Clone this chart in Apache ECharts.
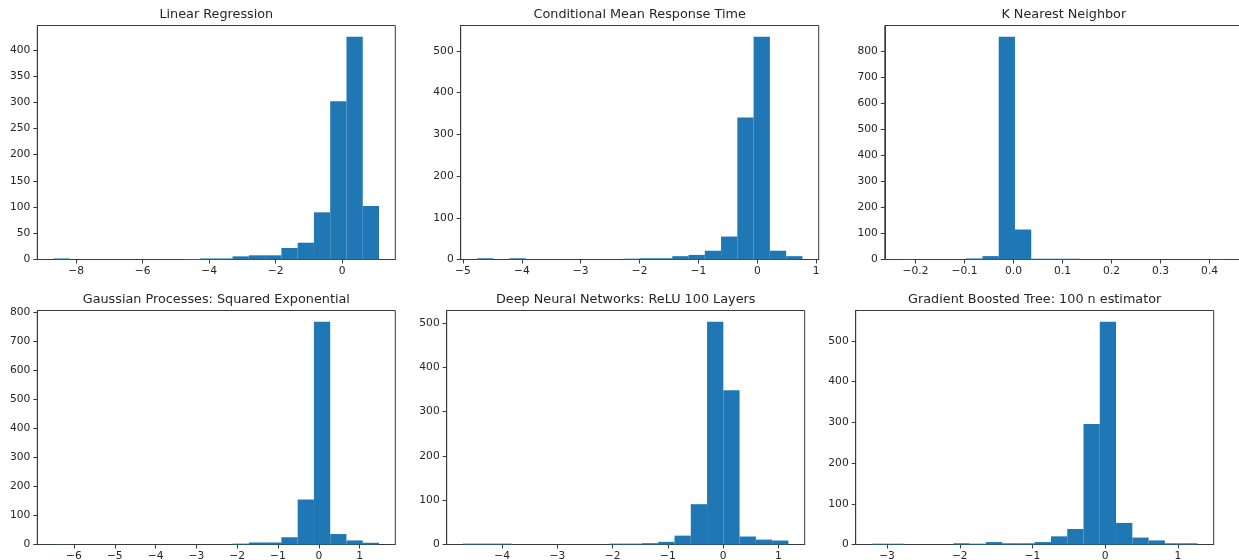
<!DOCTYPE html>
<html>
<head>
<meta charset="utf-8">
<script src="https://cdn.jsdelivr.net/npm/echarts@6/dist/echarts.min.js"></script>
<style>
html,body{margin:0;padding:0;background:#fff;}
#chart{width:1239px;height:560px;}
</style>
</head>
<body>
<div id="chart"></div>
<script>
// ---------- DATA ----------
const titles = [
  "Linear Regression",
  "Conditional Mean Response Time",
  "K Nearest Neighbor",
  "Gaussian Processes: Squared Exponential",
  "Deep Neural Networks: ReLU 100 Layers",
  "Gradient Boosted Tree: 100 n estimator"
];
// histogram bin range [first edge, last edge] (20 equal bins each)
const binRange1 = [-8.68, 1.106];
const binRange2 = [-4.762, 0.765];
const binRange3 = [-0.2295, 0.4345];
const binRange4 = [-6.50, 1.476];
const binRange5 = [-4.707, 1.181];
const binRange6 = [-3.207, 1.268];
// bin counts
const counts1 = [2,0,0,0,0,0,0,0,1,2,2,6,8,8,22,32,90,302,425,102];
const counts2 = [3,0,3,0,0,0,0,0,0,2,3,3,8,11,21,55,340,534,21,8];
const counts3 = [1,0,0,0,4,13,855,115,3,3,3,0,0,0,0,0,0,0,0,1];
const counts4 = [1,0,0,0,0,0,0,0,0,0,0,3,7,7,25,155,768,36,14,6];
const counts5 = [2,2,2,0,0,0,0,0,0,2,2,3,6,20,91,503,348,18,11,9];
const counts6 = [2,2,0,0,0,3,2,6,3,3,6,20,38,296,547,53,17,10,3,3];
// tick labels
const xTicks1 = [-8,-6,-4,-2,0];
const xTicks2 = [-5,-4,-3,-2,-1,0,1];
const xTicks3 = [-0.2,-0.1,0.0,0.1,0.2,0.3,0.4];
const xTicks4 = [-6,-5,-4,-3,-2,-1,0,1];
const xTicks5 = [-4,-3,-2,-1,0,1];
const xTicks6 = [-3,-2,-1,0,1];
const yTicks1 = [0,50,100,150,200,250,300,350,400];
const yTicks2 = [0,100,200,300,400,500];
const yTicks3 = [0,100,200,300,400,500,600,700,800];
const yTicks4 = [0,100,200,300,400,500,600,700,800];
const yTicks5 = [0,100,200,300,400,500];
const yTicks6 = [0,100,200,300,400,500];

// ---------- LAYOUT ----------
const panels = [
  {range: binRange1, counts: counts1, xt: xTicks1, yt: yTicks1, dec: 0, left: 37.3,  top: 25.5},
  {range: binRange2, counts: counts2, xt: xTicks2, yt: yTicks2, dec: 0, left: 460.7, top: 25.5},
  {range: binRange3, counts: counts3, xt: xTicks3, yt: yTicks3, dec: 1, left: 884.8, top: 25.5},
  {range: binRange4, counts: counts4, xt: xTicks4, yt: yTicks4, dec: 0, left: 37.3,  top: 310.5},
  {range: binRange5, counts: counts5, xt: xTicks5, yt: yTicks5, dec: 0, left: 446.7, top: 310.5},
  {range: binRange6, counts: counts6, xt: xTicks6, yt: yTicks6, dec: 0, left: 855.7, top: 310.5}
];
const W = 358, H = 234;
const FONT = "'DejaVu Sans', sans-serif";
const TEXT = '#262626';
const LINE = '#3a3a3a';
const BAR = '#1f77b4';

function fmt(v, dec) {
  return v.toFixed(dec).replace('-', '\u2212');
}

const grid = [], xAxis = [], yAxis = [], series = [], title = [];
panels.forEach((p, k) => {
  const lo = p.range[0], hi = p.range[1];
  const n = p.counts.length;
  const w = (hi - lo) / n;
  const pad = (hi - lo) * 0.05;
  const ymax = Math.max.apply(null, p.counts) * 1.05;
  grid.push({left: p.left, top: p.top, width: W, height: H, show: true,
    borderColor: LINE, borderWidth: 1, backgroundColor: 'transparent',
    containLabel: false, outerBoundsMode: 'none'});
  title.push({text: titles[k], left: p.left + W / 2, top: p.top - 17.5, textAlign: 'center',
    padding: 0, textStyle: {fontFamily: FONT, fontSize: 12.8, fontWeight: 'normal', color: TEXT}});
  xAxis.push({type: 'value', gridIndex: k, min: lo - pad, max: hi + pad,
    axisLine: {show: true, onZero: false, lineStyle: {color: LINE, width: 1}},
    axisTick: {show: true, length: 4, lineStyle: {color: LINE, width: 1}, customValues: p.xt},
    axisLabel: {show: true, margin: 6, fontFamily: FONT, fontSize: 10.7, color: TEXT,
      customValues: p.xt, formatter: (v) => fmt(v, p.dec)},
    splitLine: {show: false}});
  yAxis.push({type: 'value', gridIndex: k, min: 0, max: ymax,
    axisLine: {show: true, onZero: false, lineStyle: {color: LINE, width: 1}},
    axisTick: {show: true, length: 4, lineStyle: {color: LINE, width: 1}, customValues: p.yt},
    axisLabel: {show: true, margin: 7, fontFamily: FONT, fontSize: 10.7, color: TEXT,
      customValues: p.yt, formatter: (v) => String(v)},
    splitLine: {show: false}});
  const data = p.counts.map((c, i) => [lo + i * w, lo + (i + 1) * w, c]);
  series.push({
    type: 'custom', xAxisIndex: k, yAxisIndex: k, data: data,
    encode: {x: [0, 1], y: 2},
    silent: true,
    renderItem: function (params, api) {
      const a = api.coord([api.value(0), api.value(2)]);
      const b = api.coord([api.value(1), 0]);
      return {type: 'rect', shape: {x: a[0], y: a[1], width: b[0] - a[0], height: b[1] - a[1]},
        style: {fill: BAR, stroke: null}};
    }
  });
});

const chart = echarts.init(document.getElementById('chart'), null, {renderer: 'canvas'});
chart.setOption({animation: false, backgroundColor: '#fff', title, grid, xAxis, yAxis, series});
</script>
</body>
</html>
